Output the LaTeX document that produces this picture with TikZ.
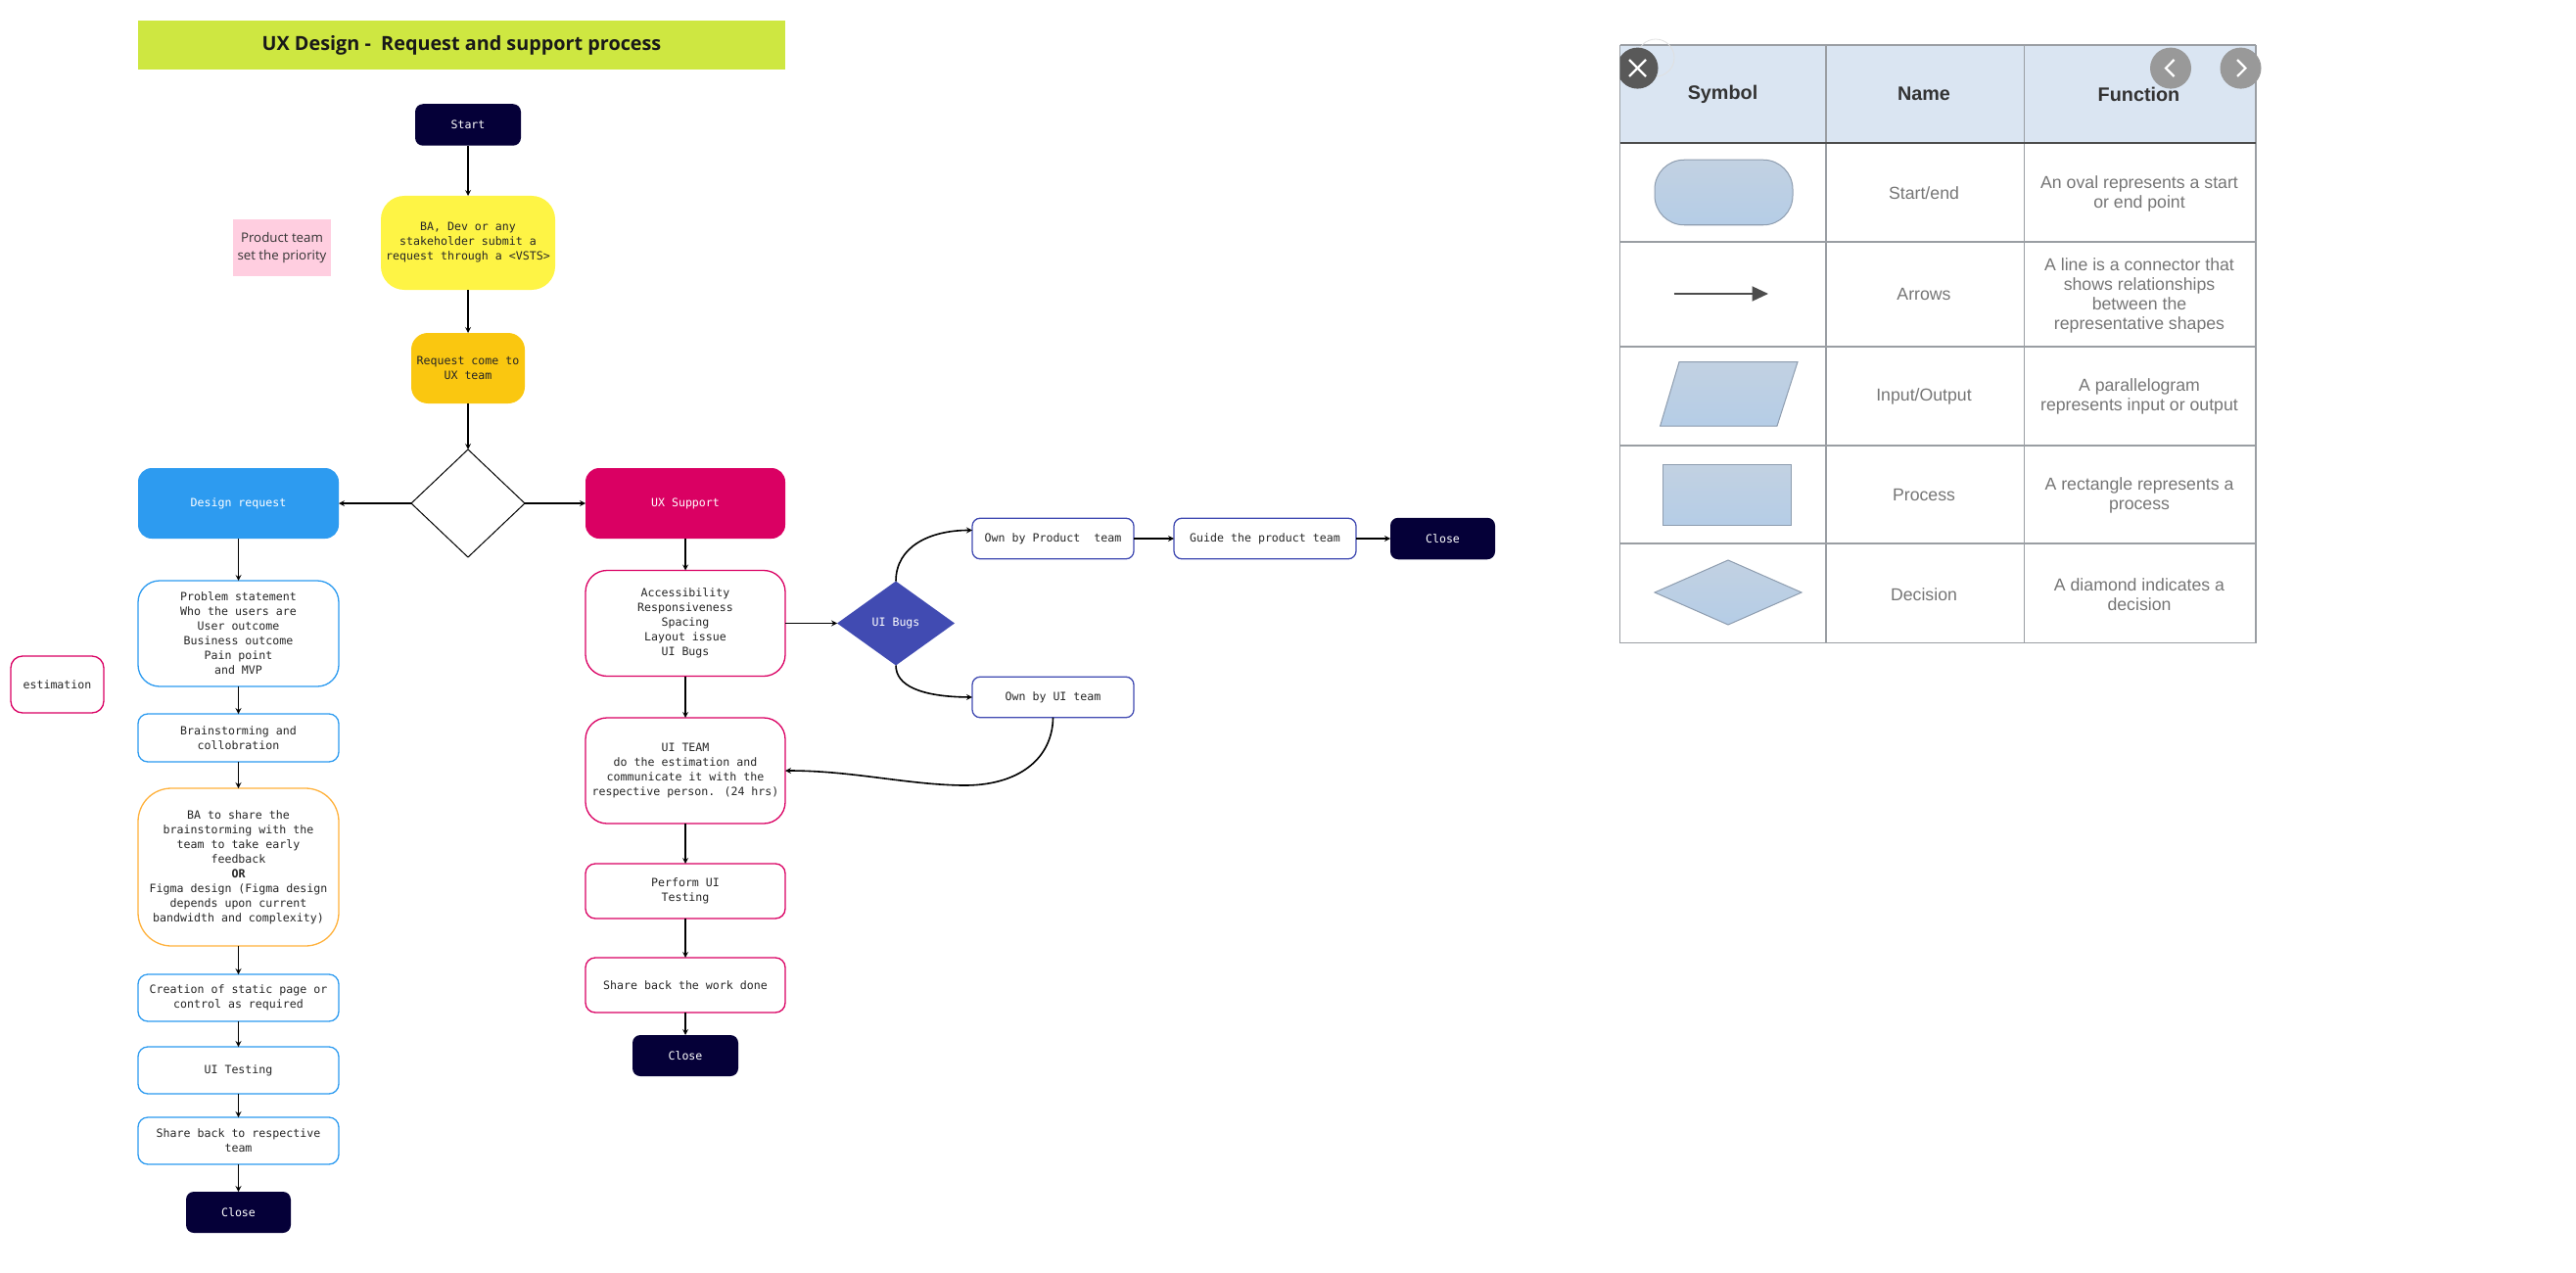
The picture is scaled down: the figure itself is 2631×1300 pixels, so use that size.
\documentclass[tikz,border=0pt]{standalone}
\usepackage{fontspec}
\usepackage{xcolor}
\usepackage{tikz}
\usetikzlibrary{shapes,arrows.meta}
\setmainfont{Liberation Sans}
\newfontfamily\monof{DejaVu Sans Mono}
\newfontfamily\notef{Open Sans}
\definecolor{navy}{HTML}{050038}
\definecolor{lime}{HTML}{CEE741}
\definecolor{sun}{HTML}{FEF445}
\definecolor{amber}{HTML}{FAC710}
\definecolor{sky}{HTML}{2D9BF0}
\definecolor{rose}{HTML}{DA0063}
\definecolor{blush}{HTML}{FFCEE0}
\definecolor{indigo}{HTML}{414BB2}
\definecolor{peach}{HTML}{FFB13B}
\definecolor{head}{HTML}{DAE5F2}
\definecolor{grid}{HTML}{9A9EA3}
\definecolor{symb}{HTML}{B5CDE6}
\definecolor{symt}{HTML}{C2D1E2}
\definecolor{symd}{HTML}{8E9DAF}
\definecolor{greytx}{HTML}{757575}
\tikzset{
  sz/.style 2 args={minimum width=#1pt,minimum height=#2pt},
  box/.style={rectangle,inner sep=0pt,outer sep=0pt,align=center,text=black!85,
    font=\monof\fontsize{11.6}{15}\selectfont},
  solid/.style={box,rounded corners=14pt,fill=#1,text=white},
  blue/.style={box,draw=sky,line width=1.3pt,fill=white,rounded corners=#1},
  pink/.style={box,draw=rose,line width=1.3pt,fill=white,rounded corners=#1},
  own/.style={box,draw=indigo,line width=1.3pt,fill=white,rounded corners=8pt},
  dark/.style={solid=navy,rounded corners=8pt},
  conn/.style={->,line width=1.6pt,black},
  tabhead/.style={inner sep=0pt,text=black!80,font=\bfseries\fontsize{19.8}{20}\selectfont},
  tabtext/.style={inner sep=0pt,align=center,text=greytx,font=\fontsize{17.7}{20}\selectfont},
  sym/.style={draw=symd,line width=1pt,top color=symt,bottom color=symb,inner sep=0pt,outer sep=0pt},
  btn/.style={circle,fill=#1,minimum size=42pt,inner sep=0pt},
}

\begin{document}
\begin{tikzpicture}[>=stealth,x=1pt,y=-1pt]
    \useasboundingbox (0,0) rectangle (2631,1300);

    % title and side notes
    \node[fill=lime,sz={661}{50},inner sep=0pt,text=black!90,font=\notef\bfseries\fontsize{19.8}{24}\selectfont] (title)at (471.5,46) {UX Design -\ \ Request and support process};
    \node[fill=blush,sz={100}{57.5},inner sep=0pt,align=center,text=black!80,font=\notef\fontsize{13.3}{17.5}\selectfont] (note)at (288,253) {Product team\\set the priority};
    \node[pink=12pt,sz={95}{58}] (est)at (58.5,699) {estimation};

    % top of the flow
    \node[dark,sz={108}{42.5}] (a)at (478,127.5) {Start};
    \node[box,fill=sun,rounded corners=24pt,sz={178}{96}] (b)at (478,248) {BA, Dev or any\\stakeholder submit a\\request through a <VSTS>};
    \node[box,fill=amber,rounded corners=17pt,sz={116}{72}] (c)at (478,376) {Request come to\\UX team};
    \node[box,diamond,draw=black,line width=1pt,fill=white,sz={116}{110},aspect=1] (d)at (478,514) {};

    % left column
    \node[solid=sky,sz={205}{72}] (e)at (243.5,514) {Design request};
    \node[blue=22pt,sz={205}{108}] (f)at (243.5,647) {Problem statement\\Who the users are\\User outcome\\Business outcome\\Pain point\\and MVP};
    \node[blue=10pt,sz={205}{49}] (g)at (243.5,753.5) {Brainstorming and\\collobration};
    \node[box,draw=peach,line width=1.3pt,fill=white,rounded corners=34pt,sz={205}{161}] (h)at (243.5,885.5) {BA to share the\\brainstorming with the\\team to take early\\feedback\\\textbf{OR}\\Figma design (Figma design\\depends upon current\\bandwidth and complexity)};
    \node[blue=10pt,sz={205}{48}] (i)at (243.5,1019) {Creation of static page or\\control as required};
    \node[blue=10pt,sz={205}{48}] (j)at (243.5,1093) {UI Testing};
    \node[blue=10pt,sz={205}{48}] (k)at (243.5,1165) {Share back to respective\\team};
    \node[dark,sz={107}{42}] (l)at (243.5,1238) {Close};

    % right column
    \node[solid=rose,sz={204}{72}] (m)at (700,514) {UX Support};
    \node[pink=22pt,sz={204}{108}] (n)at (700,636.5) {Accessibility\\Responsiveness\\Spacing\\Layout issue\\UI Bugs};
    \node[pink=22pt,sz={204}{108}] (o)at (700,787) {UI TEAM\\do the estimation and\\communicate it with the\\respective person. (24 hrs)};
    \node[pink=10pt,sz={204}{56}] (p)at (700,910) {Perform UI\\Testing};
    \node[pink=10pt,sz={204}{56}] (q)at (700,1006) {Share back the work done};
    \node[dark,sz={108}{42}] (r)at (700,1078) {Close};

    % UI bugs branch
    \node[box,diamond,fill=indigo,text=white,sz={120}{86},aspect=1] (s)at (915,636.5) {UI Bugs};
    \node[own,sz={165}{41.5}] (t)at (1075.5,550) {Own by Product\ \ team};
    \node[own,sz={186}{41.5}] (u)at (1292,550) {Guide the product team};
    \node[dark,sz={107}{42.5}] (v)at (1473.5,550) {Close};
    \node[own,sz={165}{41.5}] (w)at (1075.5,712) {Own by UI team};
    \coordinate (dip)at (982,802);

    \draw [conn] (a) to (b);
    \draw [conn] (b) to (c);
    \draw [conn] (c) to (d);
    \draw [conn] (d) to (e);
    \draw [conn] (d) to (m);
    \draw [conn] (e) to (f);
    \draw [conn] (f) to (g);
    \draw [conn] (g) to (h);
    \draw [conn] (h) to (i);
    \draw [conn] (i) to (j);
    \draw [conn] (j) to (k);
    \draw [conn] (k) to (l);
    \draw [conn] (m) to (n);
    \draw [conn] (n) to (o);
    \draw [conn] (o) to (p);
    \draw [conn] (p) to (q);
    \draw [conn] (q) to (r);
    \draw [conn] (n) to (s);
    \draw [conn] (t) to (u);
    \draw [conn] (u) to (v);
    \draw [conn] (s.north) .. controls (915,558) and (950,541.5) .. ([yshift=8.5pt]t.west);
    \draw [conn] (s.south) .. controls (915,700) and (940,711.5) .. (w.west);
    \draw [conn] (w.south) .. controls (1075,775) and (1040,803) .. (dip) .. controls (925,801) and (870,787) .. (o.east);

    % flowchart legend on the right
    \fill[head] (1654.5,46) rectangle (2304,146);
    \foreach \px in {1654.5,1865,2067.5,2304}
        \draw[grid,line width=1.4pt] (\px,46) -- (\px,656.5);
    \foreach \py in {46,247,354,455,555,656.5}
        \draw[grid,line width=1.4pt] (1654.5,\py) -- (2304,\py);
    \draw[black!70,line width=1.4pt] (1654.5,146) -- (2304,146);

    \node[tabhead] (ha)at (1759.5,96) {Symbol};
    \node[tabhead] (hb)at (1965,96) {Name};
    \node[tabhead] (hc)at (2184.5,96) {Function};

    \node[sym,rectangle,rounded corners=30pt,sz={141}{66.5}] (sa)at (1760.5,196.5) {};
    \coordinate (sb1)at (1709.5,300);
    \coordinate (sb2)at (1806,300);
    \draw[-{Triangle[length=16.5pt,width=15pt]},black!70,line width=2pt] (sb1) -- (sb2);
    \draw[sym] (1715,369.6) -- (1836,369.6) -- (1815,435) -- (1695.6,435) -- cycle;
    \node[sym,rectangle,sz={131}{62}] (sd)at (1763.5,505.5) {};
    \node[sym,diamond,sz={150}{66},aspect=2.27] (se)at (1765,605) {};

    \node[tabtext] (na)at (1965,197.5) {Start/end};
    \node[tabtext] (nb)at (1965,300.5) {Arrows};
    \node[tabtext] (nc)at (1965,405) {Input/Output};
    \node[tabtext] (nd)at (1965,505.5) {Process};
    \node[tabtext] (ne)at (1965,607) {Decision};

    \node[tabtext] (fa)at (2185,198) {An oval represents a start\\or end point};
    \node[tabtext] (fb)at (2185,301.5) {A line is a connector that\\shows relationships\\between the\\representative shapes};
    \node[tabtext] (fc)at (2185,405) {A parallelogram\\represents input or output};
    \node[tabtext] (fd)at (2185,506) {A rectangle represents a\\process};
    \node[tabtext] (fe)at (2185,607) {A diamond indicates a\\decision};

    % viewer buttons over the legend
    \node[circle,draw=black!12,line width=.8pt,minimum size=38pt,inner sep=0pt] (ring)at (1691,59) {};
    \begin{scope}
        \clip (1654.5,30) rectangle (1720,110);
        \node[btn=black!65] (xb)at (1672.5,69.6) {};
    \end{scope}
    \draw[white,line width=2.2pt] (1664,61) -- (1681,78) (1681,61) -- (1664,78);
    \node[btn=black!40] (pb)at (2217,69.6) {};
    \node[btn=black!40] (nx)at (2288.5,69.6) {};
    \draw[white,line width=2.2pt] (2220.5,61) -- (2212,69.6) -- (2220.5,78);
    \draw[white,line width=2.2pt] (2285,61) -- (2293.5,69.6) -- (2285,78);
\end{tikzpicture}
\end{document}
